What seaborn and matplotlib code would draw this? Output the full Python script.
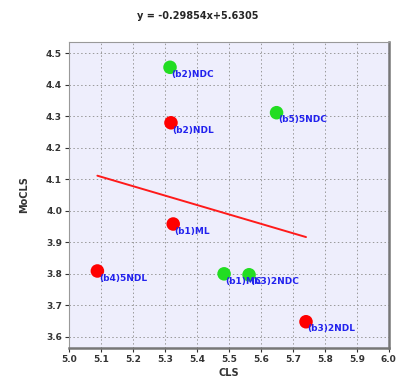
import numpy as np
import pandas as pd
import matplotlib
matplotlib.use("Agg")
import matplotlib.pyplot as plt
import seaborn as sns

# data
labels = ["(b2)NDC", "(b5)5NDC", "(b2)NDL", "(b1)ML", "(b4)5NDL", "(b1)MC", "(b3)2NDC", "(b3)2NDL"]
cls = [5.316, 5.649, 5.319, 5.326, 5.089, 5.485, 5.563, 5.741]
mocls = [4.455, 4.311, 4.279, 3.958, 3.809, 3.800, 3.797, 3.648]
group = ["C", "C", "L", "L", "L", "C", "C", "L"]

slope = -0.29854
intercept = 5.6305

df = pd.DataFrame({"CLS": cls, "MoCLS": mocls, "group": group, "label": labels})

sns.set_style("white")
plt.rcParams["font.family"] = ["DejaVu Sans"]

fig = plt.figure(figsize=(3.96, 3.79), dpi=100)
ax = fig.add_axes([0.174, 0.082, 0.808, 0.807])
ax.set_facecolor("#eeeefc")

# regression line over the data range
xs = np.array([df["CLS"].min(), df["CLS"].max()])
sns.lineplot(x=xs, y=slope * xs + intercept, color="#ff1a1a", linewidth=1.4, ax=ax)

sns.scatterplot(data=df, x="CLS", y="MoCLS", hue="group",
                palette={"C": "#22dd22", "L": "#ff0000"},
                s=95, edgecolor="none", legend=False, zorder=3, ax=ax)

for _, r in df.iterrows():
    ax.annotate(r["label"], (r["CLS"], r["MoCLS"]), xytext=(1, -7),
                textcoords="offset points", color="#2222ee",
                fontsize=6.5, fontweight="bold", zorder=4)

ax.set_xlim(5.0, 6.0)
ax.set_ylim(3.565, 4.535)
ax.set_xticks(np.arange(5.0, 6.01, 0.1))
ax.set_yticks(np.arange(3.6, 4.51, 0.1))
ax.xaxis.set_major_formatter(matplotlib.ticker.FormatStrFormatter("%.1f"))
ax.yaxis.set_major_formatter(matplotlib.ticker.FormatStrFormatter("%.1f"))
ax.grid(True, linestyle=(0, (1.5, 2.5)), color="#999999", linewidth=0.7)
ax.tick_params(axis="both", labelsize=6.5, length=3, width=0.8, color="#333333",
               direction="out", bottom=True, left=True, pad=2)
for t in ax.get_xticklabels() + ax.get_yticklabels():
    t.set_fontweight("bold")
    t.set_color("#333333")

for s in ["top", "left"]:
    ax.spines[s].set_color("#999999")
    ax.spines[s].set_linewidth(0.8)
for s in ["right", "bottom"]:
    ax.spines[s].set_color("#777777")
    ax.spines[s].set_linewidth(1.8)

ax.set_xlabel("CLS", fontsize=7, fontweight="bold", color="#333333", labelpad=3)
ax.set_ylabel("MoCLS", fontsize=7, fontweight="bold", color="#333333", labelpad=12)
fig.text(0.5, 0.957, "y = -0.29854x+5.6305", ha="center", va="center",
         fontsize=7, fontweight="bold")

fig.savefig("out.png", dpi=100)
